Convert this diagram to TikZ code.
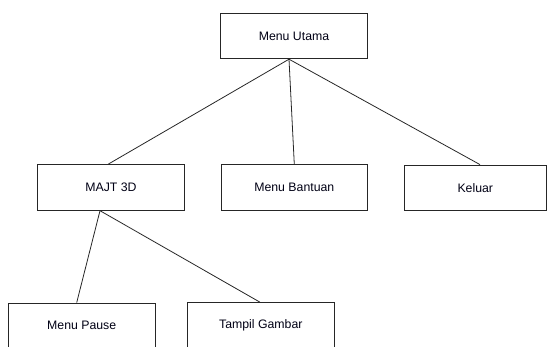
\documentclass[tikz,border=0pt]{standalone}
\usepackage{fontspec}
\setmainfont{Liberation Sans}
\begin{document}
\begin{tikzpicture}[x=1pt,y=-1pt,
  box/.style={draw=black!85,line width=0.9pt,minimum width=146.5pt,minimum height=45.5pt,inner sep=0pt,font=\fontsize{12.3}{14}\selectfont,text=black!92!blue},
  link/.style={draw=black!85,line width=0.8pt}]
\useasboundingbox (0,0) rectangle (547,347);
\clip (0,0) rectangle (547,347);
\node[box] (mu) at (294,36) {Menu Utama};
\node[box] (majt) at (111,187.5) {MAJT 3D};
\node[box] (mb) at (294.3,187.5) {Menu Bantuan};
\node[box,minimum width=142.5pt] (kel) at (475.3,187.8) {Keluar};
\node[box] (mp) at (81.7,325.8) {Menu Pause};
\node[box] (tg) at (260.8,325.3) {Tampil Gambar};
\draw[link] ([xshift=-5pt]mu.south) -- ([xshift=-3pt]majt.north);
\draw[link] ([xshift=-5pt]mu.south) -- ([xshift=0pt]mb.north);
\draw[link] ([xshift=-5pt]mu.south) -- ([xshift=4.7pt]kel.north);
\draw[link] ([xshift=-11pt]majt.south) -- ([xshift=-5pt]mp.north);
\draw[link] ([xshift=-11pt]majt.south) -- ([xshift=-1pt]tg.north);
\end{tikzpicture}
\end{document}
